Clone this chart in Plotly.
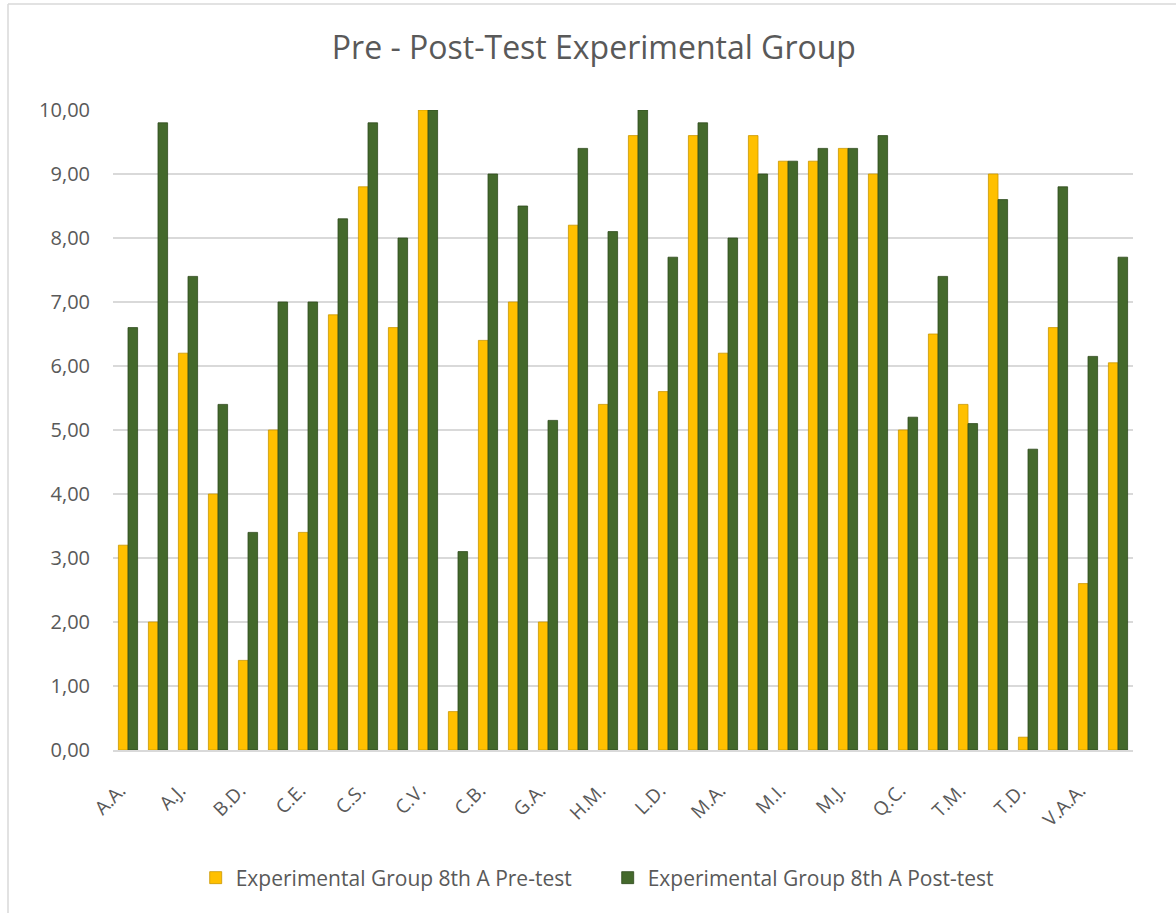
import plotly.graph_objects as go

# Students (34); only every other initial is shown on the axis in the original
student_index = list(range(1, 35))
tick_positions = list(range(1, 35, 2))
tick_labels = ["A.A.", "A.J.", "B.D.", "C.E.", "C.S.", "C.V.", "C.B.", "G.A.", "H.M.",
               "L.D.", "M.A.", "M.I.", "M.J.", "Q.C.", "T.M.", "T.D.", "V.A.A."]

pre_test = [3.2, 2.0, 6.2, 4.0, 1.4, 5.0, 3.4, 6.8, 8.8, 6.6,
            10.0, 0.6, 6.4, 7.0, 2.0, 8.2, 5.4, 9.6, 5.6, 9.6,
            6.2, 9.6, 9.2, 9.2, 9.4, 9.0, 5.0, 6.5, 5.4, 9.0,
            0.2, 6.6, 2.6, 6.05]
post_test = [6.6, 9.8, 7.4, 5.4, 3.4, 7.0, 7.0, 8.3, 9.8, 8.0,
             10.0, 3.1, 9.0, 8.5, 5.15, 9.4, 8.1, 10.0, 7.7, 9.8,
             8.0, 9.0, 9.2, 9.4, 9.4, 9.6, 5.2, 7.4, 5.1, 8.6,
             4.7, 8.8, 6.15, 7.7]

series_names = ["Experimental Group 8th A Pre-test", "Experimental Group 8th A Post-test"]
y_ticks = [0, 1, 2, 3, 4, 5, 6, 7, 8, 9, 10]

YELLOW = "#FFC000"
YELLOW_DARK = "#C99700"
GREEN = "#44692C"
GREEN_DARK = "#2E4A1D"
TXT = "#595959"
FONT = "Open Sans, Noto Sans, sans-serif"

fig = go.Figure()
fig.add_trace(go.Bar(x=student_index, y=pre_test, name=series_names[0],
                     marker=dict(color=YELLOW, line=dict(color=YELLOW_DARK, width=0.8))))
fig.add_trace(go.Bar(x=student_index, y=post_test, name=series_names[1],
                     marker=dict(color=GREEN, line=dict(color=GREEN_DARK, width=0.8))))

fig.update_layout(
    width=1176, height=913,
    paper_bgcolor="white", plot_bgcolor="white",
    separators=",.",
    font=dict(family=FONT, color=TXT, size=18),
    title=dict(text="Pre - Post-Test Experimental Group", x=0.505, xanchor="center",
               y=1 - 48 / 913, yanchor="middle",
               font=dict(size=32, color=TXT, family=FONT)),
    margin=dict(l=113, r=43, t=110, b=163),
    barmode="group", bargap=0.36, bargroupgap=0.0,
    showlegend=True,
    legend=dict(orientation="h", x=0.485, xanchor="center", y=-0.2, yanchor="middle",
                font=dict(size=21, color=TXT), itemwidth=30,
                entrywidth=367, entrywidthmode="pixels"),
    xaxis=dict(range=[0.5, 34.5], tickmode="array", tickvals=tick_positions,
               ticktext=tick_labels, tickangle=-45, showgrid=False, zeroline=False,
               showline=True, linecolor="#D9D9D9", linewidth=2, ticks="",
               ticklabelstandoff=20, ticklabelshift=-8,
               tickfont=dict(size=19, color=TXT)),
    yaxis=dict(range=[0, 10.0], tickmode="array", tickvals=y_ticks, tickformat=".2f",
               showgrid=True, gridcolor="#D9D9D9", gridwidth=2, zeroline=False,
               showline=False, ticks="", ticklabelstandoff=22,
               tickfont=dict(size=20, color=TXT)),
)

# outer chart border (top and left edges visible in the original)
fig.add_shape(type="line", xref="paper", yref="paper",
              x0=(8 - 113) / 1020, x1=(1200 - 113) / 1020,
              y0=(750 - 4) / 640, y1=(750 - 4) / 640,
              line=dict(color="#D9D9D9", width=1.5))
fig.add_shape(type="line", xref="paper", yref="paper",
              x0=(8 - 113) / 1020, x1=(8 - 113) / 1020,
              y0=(750 - 4) / 640, y1=(750 - 950) / 640,
              line=dict(color="#D9D9D9", width=1.5))

fig.write_html("out.html", config={"displayModeBar": False},
               post_script="document.body.style.margin='0';")
